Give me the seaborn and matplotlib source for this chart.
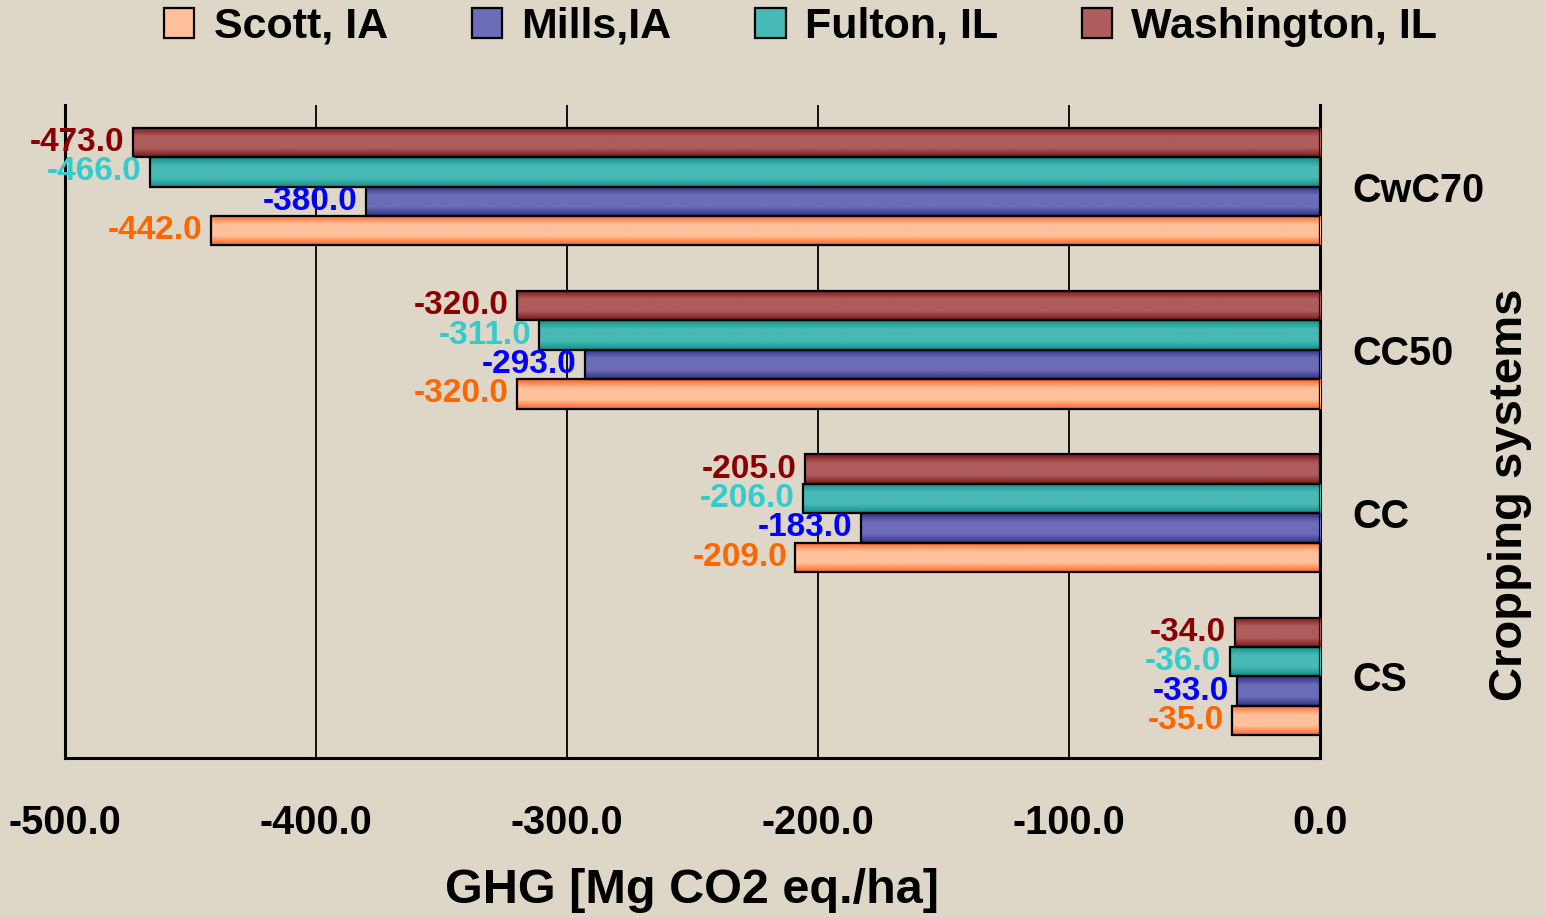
import numpy as np
import pandas as pd
import matplotlib
matplotlib.use("Agg")
import matplotlib.pyplot as plt
import seaborn as sns
from matplotlib.colors import LinearSegmentedColormap
from matplotlib.patches import Patch

# values
systems = ["CwC70", "CC50", "CC", "CS"]
scott = [-442.0, -320.0, -209.0, -35.0]
mills = [-380.0, -293.0, -183.0, -33.0]
fulton = [-466.0, -311.0, -206.0, -36.0]
washington = [-473.0, -320.0, -205.0, -34.0]

sites = ["Scott, IA", "Mills,IA", "Fulton, IL", "Washington, IL"]
series = [scott, mills, fulton, washington]

df = pd.DataFrame({
    "system": systems * 4,
    "site": np.repeat(sites, len(systems)),
    "ghg": np.concatenate(series),
})

# edge colour, centre colour, label colour per site
style = {
    "Scott, IA": ("#FF6428", "#FFC09A", "#FF6600"),
    "Mills,IA": ("#323288", "#6C6CB8", "#0000FF"),
    "Fulton, IL": ("#12908B", "#48BAB5", "#33CCCC"),
    "Washington, IL": ("#7C1A1A", "#AE5C5C", "#8B0000"),
}

bg = "#DED7C8"
sns.set_style("white")
plt.rcParams["font.family"] = ["Liberation Sans", "DejaVu Sans"]
plt.rcParams["font.weight"] = "bold"
for key in ["text.color", "axes.labelcolor", "xtick.color", "ytick.color"]:
    plt.rcParams[key] = "black"

fig = plt.figure(figsize=(15.46, 9.17), dpi=100, facecolor=bg)
ax = fig.add_axes([0.042, 0.1734, 0.8118, 0.7121])
ax.set_facecolor(bg)

# top bar in each group is Washington, bottom is Scott
hue_order = sites[::-1]
sns.barplot(data=df, y="system", x="ghg", hue="site", hue_order=hue_order,
            order=systems, orient="h", width=0.72, gap=0, legend=False,
            ax=ax, zorder=3)

# gradient fill clipped to each bar
for cont, site in zip(ax.containers, hue_order):
    dark, light, lab = style[site]
    cmap = LinearSegmentedColormap.from_list(
        site, [(0, dark), (0.3, light), (0.5, light), (0.7, light), (1, dark)])
    for bar in cont:
        x0, y0 = bar.get_x(), bar.get_y()
        w, h = bar.get_width(), bar.get_height()
        xa, xb = sorted([x0, x0 + w])
        im = ax.imshow(np.linspace(0, 1, 40).reshape(-1, 1), cmap=cmap,
                       aspect="auto", extent=[xa, xb, y0 + h, y0],
                       interpolation="bilinear", zorder=3)
        im.set_clip_path(bar)
        bar.set_facecolor("none")
        bar.set_edgecolor("black")
        bar.set_linewidth(1.6)
        bar.set_zorder(4)

ax.set_xlim(-500, 0)
ax.set_ylim(3.5, -0.5)

for cont, site in zip(ax.containers, hue_order):
    ax.bar_label(cont, fmt="%.1f", padding=6, color=style[site][2],
                 fontsize=24, fontweight="bold", zorder=5)

# axes look
ax.set_xticks([-500, -400, -300, -200, -100, 0])
ax.xaxis.set_major_formatter(matplotlib.ticker.FormatStrFormatter("%.1f"))
ax.tick_params(axis="x", direction="out", length=9, width=2, color="black",
               labelsize=28.5, pad=24)
ax.grid(axis="x", color="black", linewidth=1.3)
ax.grid(axis="y", visible=False)
ax.set_axisbelow(True)
ax.yaxis.tick_right()
ax.tick_params(axis="y", length=0, labelsize=28.5, pad=23)
for lbl in ax.get_yticklabels():
    lbl.set_horizontalalignment("left")
ax.set_ylabel("")
ax.spines["top"].set_visible(False)
for s in ["left", "bottom", "right"]:
    ax.spines[s].set_linewidth(2.2)
    ax.spines[s].set_color("black")

ax.set_xlabel("GHG [Mg CO2 eq./ha]", fontsize=35, fontweight="bold", labelpad=19)
fig.text(1510 / 1546, 1 - 495 / 917, "Cropping systems", rotation=90,
         ha="center", va="center", fontsize=34, fontweight="bold")

handles = [Patch(facecolor=style[s][1], edgecolor="black", linewidth=1.6) for s in sites]
fig.legend(handles, sites, loc="upper center", bbox_to_anchor=(0.518, 1.035),
           ncol=4, frameon=False, fontsize=31, handlelength=0.7,
           handleheight=0.7, handletextpad=0.45, columnspacing=1.95)

fig.savefig("out.png", dpi=100, facecolor=bg)
